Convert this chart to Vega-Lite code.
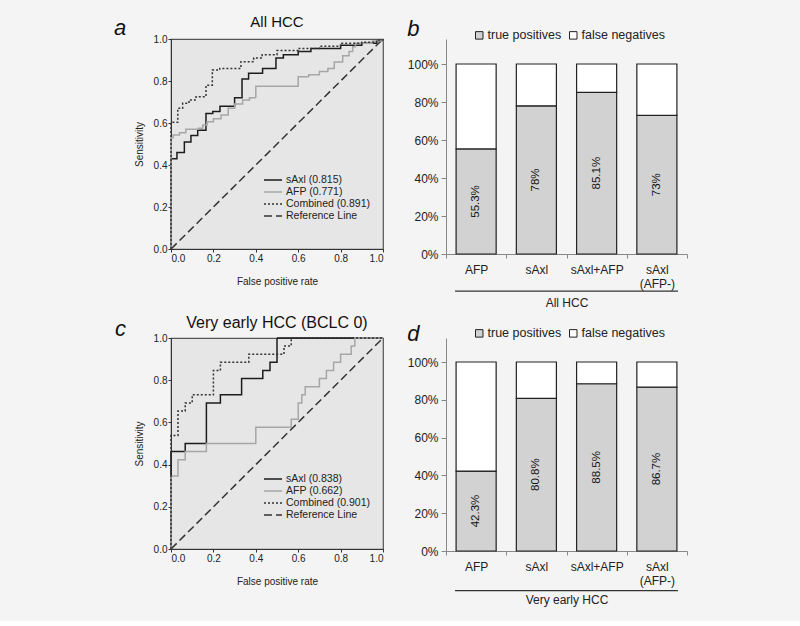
{
  "$schema": "https://vega.github.io/schema/vega-lite/v6.json",
  "background": "#f4f4f4",
  "padding": {"left": 113, "top": 14, "right": 112, "bottom": 16},
  "config": {
    "font": "Liberation Sans",
    "view": {"stroke": null},
    "axis": {"grid": false, "titleFontWeight": "normal", "labelColor": "#222", "titleColor": "#222"},
    "title": {"fontWeight": "normal", "color": "#111", "font": "Liberation Sans"}
  },
  "datasets": {
    "rocA": [
      {"series": "sAxl (0.815)", "i": 0, "fpr": 0, "sens": 0},
      {"series": "sAxl (0.815)", "i": 1, "fpr": 0, "sens": 0.43},
      {"series": "sAxl (0.815)", "i": 2, "fpr": 0.028, "sens": 0.46},
      {"series": "sAxl (0.815)", "i": 3, "fpr": 0.063, "sens": 0.51},
      {"series": "sAxl (0.815)", "i": 4, "fpr": 0.094, "sens": 0.54},
      {"series": "sAxl (0.815)", "i": 5, "fpr": 0.126, "sens": 0.565},
      {"series": "sAxl (0.815)", "i": 6, "fpr": 0.165, "sens": 0.645},
      {"series": "sAxl (0.815)", "i": 7, "fpr": 0.197, "sens": 0.655},
      {"series": "sAxl (0.815)", "i": 8, "fpr": 0.231, "sens": 0.68},
      {"series": "sAxl (0.815)", "i": 9, "fpr": 0.3, "sens": 0.72},
      {"series": "sAxl (0.815)", "i": 10, "fpr": 0.335, "sens": 0.81},
      {"series": "sAxl (0.815)", "i": 11, "fpr": 0.366, "sens": 0.837},
      {"series": "sAxl (0.815)", "i": 12, "fpr": 0.432, "sens": 0.86},
      {"series": "sAxl (0.815)", "i": 13, "fpr": 0.495, "sens": 0.91},
      {"series": "sAxl (0.815)", "i": 14, "fpr": 0.53, "sens": 0.925},
      {"series": "sAxl (0.815)", "i": 15, "fpr": 0.6, "sens": 0.94},
      {"series": "sAxl (0.815)", "i": 16, "fpr": 0.66, "sens": 0.955},
      {"series": "sAxl (0.815)", "i": 17, "fpr": 0.8, "sens": 0.97},
      {"series": "sAxl (0.815)", "i": 18, "fpr": 0.9, "sens": 0.98},
      {"series": "sAxl (0.815)", "i": 19, "fpr": 0.97, "sens": 0.99},
      {"series": "sAxl (0.815)", "i": 20, "fpr": 1, "sens": 1},
      {"series": "AFP (0.771)", "i": 0, "fpr": 0, "sens": 0},
      {"series": "AFP (0.771)", "i": 1, "fpr": 0, "sens": 0.53},
      {"series": "AFP (0.771)", "i": 2, "fpr": 0.01, "sens": 0.543},
      {"series": "AFP (0.771)", "i": 3, "fpr": 0.04, "sens": 0.553},
      {"series": "AFP (0.771)", "i": 4, "fpr": 0.07, "sens": 0.57},
      {"series": "AFP (0.771)", "i": 5, "fpr": 0.13, "sens": 0.575},
      {"series": "AFP (0.771)", "i": 6, "fpr": 0.15, "sens": 0.59},
      {"series": "AFP (0.771)", "i": 7, "fpr": 0.17, "sens": 0.606},
      {"series": "AFP (0.771)", "i": 8, "fpr": 0.2, "sens": 0.62},
      {"series": "AFP (0.771)", "i": 9, "fpr": 0.236, "sens": 0.638},
      {"series": "AFP (0.771)", "i": 10, "fpr": 0.27, "sens": 0.67},
      {"series": "AFP (0.771)", "i": 11, "fpr": 0.3, "sens": 0.69},
      {"series": "AFP (0.771)", "i": 12, "fpr": 0.338, "sens": 0.71},
      {"series": "AFP (0.771)", "i": 13, "fpr": 0.37, "sens": 0.72},
      {"series": "AFP (0.771)", "i": 14, "fpr": 0.4, "sens": 0.775},
      {"series": "AFP (0.771)", "i": 15, "fpr": 0.6, "sens": 0.82},
      {"series": "AFP (0.771)", "i": 16, "fpr": 0.65, "sens": 0.83},
      {"series": "AFP (0.771)", "i": 17, "fpr": 0.7, "sens": 0.845},
      {"series": "AFP (0.771)", "i": 18, "fpr": 0.74, "sens": 0.86},
      {"series": "AFP (0.771)", "i": 19, "fpr": 0.77, "sens": 0.89},
      {"series": "AFP (0.771)", "i": 20, "fpr": 0.81, "sens": 0.92},
      {"series": "AFP (0.771)", "i": 21, "fpr": 0.84, "sens": 0.94},
      {"series": "AFP (0.771)", "i": 22, "fpr": 0.857, "sens": 0.963},
      {"series": "AFP (0.771)", "i": 23, "fpr": 0.87, "sens": 0.98},
      {"series": "AFP (0.771)", "i": 24, "fpr": 0.95, "sens": 0.99},
      {"series": "AFP (0.771)", "i": 25, "fpr": 1, "sens": 1},
      {"series": "Combined (0.891)", "i": 0, "fpr": 0, "sens": 0},
      {"series": "Combined (0.891)", "i": 1, "fpr": 0, "sens": 0.603},
      {"series": "Combined (0.891)", "i": 2, "fpr": 0.032, "sens": 0.67},
      {"series": "Combined (0.891)", "i": 3, "fpr": 0.055, "sens": 0.694},
      {"series": "Combined (0.891)", "i": 4, "fpr": 0.085, "sens": 0.71},
      {"series": "Combined (0.891)", "i": 5, "fpr": 0.118, "sens": 0.725},
      {"series": "Combined (0.891)", "i": 6, "fpr": 0.165, "sens": 0.78},
      {"series": "Combined (0.891)", "i": 7, "fpr": 0.195, "sens": 0.852},
      {"series": "Combined (0.891)", "i": 8, "fpr": 0.23, "sens": 0.86},
      {"series": "Combined (0.891)", "i": 9, "fpr": 0.33, "sens": 0.892},
      {"series": "Combined (0.891)", "i": 10, "fpr": 0.39, "sens": 0.91},
      {"series": "Combined (0.891)", "i": 11, "fpr": 0.43, "sens": 0.925},
      {"series": "Combined (0.891)", "i": 12, "fpr": 0.5, "sens": 0.945},
      {"series": "Combined (0.891)", "i": 13, "fpr": 0.6, "sens": 0.955},
      {"series": "Combined (0.891)", "i": 14, "fpr": 0.7, "sens": 0.965},
      {"series": "Combined (0.891)", "i": 15, "fpr": 0.8, "sens": 0.98},
      {"series": "Combined (0.891)", "i": 16, "fpr": 0.9, "sens": 0.985},
      {"series": "Combined (0.891)", "i": 17, "fpr": 0.97, "sens": 0.995},
      {"series": "Combined (0.891)", "i": 18, "fpr": 1, "sens": 1}
    ],
    "rocC": [
      {"series": "sAxl (0.838)", "i": 0, "fpr": 0, "sens": 0},
      {"series": "sAxl (0.838)", "i": 1, "fpr": 0, "sens": 0.462},
      {"series": "sAxl (0.838)", "i": 2, "fpr": 0.067, "sens": 0.5},
      {"series": "sAxl (0.838)", "i": 3, "fpr": 0.167, "sens": 0.692},
      {"series": "sAxl (0.838)", "i": 4, "fpr": 0.233, "sens": 0.731},
      {"series": "sAxl (0.838)", "i": 5, "fpr": 0.333, "sens": 0.808},
      {"series": "sAxl (0.838)", "i": 6, "fpr": 0.433, "sens": 0.846},
      {"series": "sAxl (0.838)", "i": 7, "fpr": 0.467, "sens": 0.885},
      {"series": "sAxl (0.838)", "i": 8, "fpr": 0.5, "sens": 1},
      {"series": "sAxl (0.838)", "i": 9, "fpr": 1, "sens": 1},
      {"series": "AFP (0.662)", "i": 0, "fpr": 0, "sens": 0},
      {"series": "AFP (0.662)", "i": 1, "fpr": 0, "sens": 0.346},
      {"series": "AFP (0.662)", "i": 2, "fpr": 0.033, "sens": 0.423},
      {"series": "AFP (0.662)", "i": 3, "fpr": 0.067, "sens": 0.462},
      {"series": "AFP (0.662)", "i": 4, "fpr": 0.167, "sens": 0.5},
      {"series": "AFP (0.662)", "i": 5, "fpr": 0.4, "sens": 0.577},
      {"series": "AFP (0.662)", "i": 6, "fpr": 0.567, "sens": 0.615},
      {"series": "AFP (0.662)", "i": 7, "fpr": 0.6, "sens": 0.692},
      {"series": "AFP (0.662)", "i": 8, "fpr": 0.617, "sens": 0.731},
      {"series": "AFP (0.662)", "i": 9, "fpr": 0.633, "sens": 0.769},
      {"series": "AFP (0.662)", "i": 10, "fpr": 0.7, "sens": 0.808},
      {"series": "AFP (0.662)", "i": 11, "fpr": 0.733, "sens": 0.846},
      {"series": "AFP (0.662)", "i": 12, "fpr": 0.767, "sens": 0.885},
      {"series": "AFP (0.662)", "i": 13, "fpr": 0.8, "sens": 0.923},
      {"series": "AFP (0.662)", "i": 14, "fpr": 0.85, "sens": 0.962},
      {"series": "AFP (0.662)", "i": 15, "fpr": 0.867, "sens": 1},
      {"series": "AFP (0.662)", "i": 16, "fpr": 1, "sens": 1},
      {"series": "Combined (0.901)", "i": 0, "fpr": 0, "sens": 0},
      {"series": "Combined (0.901)", "i": 1, "fpr": 0, "sens": 0.538},
      {"series": "Combined (0.901)", "i": 2, "fpr": 0.033, "sens": 0.654},
      {"series": "Combined (0.901)", "i": 3, "fpr": 0.067, "sens": 0.692},
      {"series": "Combined (0.901)", "i": 4, "fpr": 0.1, "sens": 0.731},
      {"series": "Combined (0.901)", "i": 5, "fpr": 0.2, "sens": 0.846},
      {"series": "Combined (0.901)", "i": 6, "fpr": 0.233, "sens": 0.885},
      {"series": "Combined (0.901)", "i": 7, "fpr": 0.367, "sens": 0.923},
      {"series": "Combined (0.901)", "i": 8, "fpr": 0.533, "sens": 0.962},
      {"series": "Combined (0.901)", "i": 9, "fpr": 0.567, "sens": 1},
      {"series": "Combined (0.901)", "i": 10, "fpr": 1, "sens": 1}
    ],
    "refA": [
      {"series": "Reference Line", "fpr": 0, "sens": 0},
      {"series": "Reference Line", "fpr": 1, "sens": 1}
    ],
    "barB": [
      {"cat": "AFP", "type": "true positives", "value": 0.553, "label": "55.3%"},
      {"cat": "AFP", "type": "false negatives", "value": 0.447, "label": ""},
      {"cat": "sAxl", "type": "true positives", "value": 0.78, "label": "78%"},
      {"cat": "sAxl", "type": "false negatives", "value": 0.22, "label": ""},
      {"cat": "sAxl+AFP", "type": "true positives", "value": 0.851, "label": "85.1%"},
      {"cat": "sAxl+AFP", "type": "false negatives", "value": 0.149, "label": ""},
      {"cat": "sAxl (AFP-)", "type": "true positives", "value": 0.73, "label": "73%"},
      {"cat": "sAxl (AFP-)", "type": "false negatives", "value": 0.27, "label": ""}
    ],
    "barD": [
      {"cat": "AFP", "type": "true positives", "value": 0.423, "label": "42.3%"},
      {"cat": "AFP", "type": "false negatives", "value": 0.577, "label": ""},
      {"cat": "sAxl", "type": "true positives", "value": 0.808, "label": "80.8%"},
      {"cat": "sAxl", "type": "false negatives", "value": 0.192, "label": ""},
      {"cat": "sAxl+AFP", "type": "true positives", "value": 0.885, "label": "88.5%"},
      {"cat": "sAxl+AFP", "type": "false negatives", "value": 0.115, "label": ""},
      {"cat": "sAxl (AFP-)", "type": "true positives", "value": 0.867, "label": "86.7%"},
      {"cat": "sAxl (AFP-)", "type": "false negatives", "value": 0.133, "label": ""}
    ],
    "span": [{"from": "AFP", "to": "sAxl (AFP-)"}],
    "letterA": [{"letter": "a"}],
    "letterC": [{"letter": "c"}]
  },
  "spacing": 6,
  "resolve": {
    "scale": {"color": "independent", "strokeDash": "independent", "fill": "independent"},
    "legend": {"color": "independent", "strokeDash": "independent", "fill": "independent"}
  },
  "vconcat": [
    {
      "spacing": 20,
      "resolve": {
        "scale": {"color": "independent", "strokeDash": "independent", "fill": "independent"},
        "legend": {"color": "independent", "strokeDash": "independent", "fill": "independent"}
      },
      "hconcat": [
        {
          "width": 212, "height": 210,
          "view": {"fill": "#e6e6e6", "stroke": "#555", "strokeWidth": 1.2},
          "title": {"text": "All HCC", "fontSize": 15, "offset": -13},
          "layer": [
            {
              "data": {"name": "refA"},
              "mark": {"type": "line", "strokeWidth": 1.5},
              "encoding": {
                "x": {"field": "fpr", "type": "quantitative", "scale": {"domain": [0, 1], "nice": false}, "title": "False positive rate",
                  "axis": {"values": [0, 0.2, 0.4, 0.6, 0.8, 1], "format": ".1f", "labelFontSize": 10, "titleFontSize": 10, "tickSize": 3, "labelPadding": 1, "domainColor": "#333", "tickColor": "#333", "titlePadding": 13}},
                "y": {"field": "sens", "type": "quantitative", "scale": {"domain": [0, 1], "nice": false}, "title": "Sensitivity",
                  "axis": {"values": [0, 0.2, 0.4, 0.6, 0.8, 1], "format": ".1f", "labelFontSize": 10, "titleFontSize": 10, "tickSize": 3, "labelPadding": 1, "domainColor": "#333", "tickColor": "#333", "titlePadding": 9}},
                "color": {"field": "series", "type": "nominal",
                  "scale": {"domain": ["sAxl (0.815)", "AFP (0.771)", "Combined (0.891)", "Reference Line"], "range": ["#1c1c1c", "#a6a6a6", "#333333", "#333333"]},
                  "legend": {"title": null, "orient": "none", "legendX": 96, "legendY": 135, "symbolType": "M-1.8,0H1.8", "symbolSize": 100, "symbolStrokeWidth": 1.5, "rowPadding": 0, "labelFontSize": 10.5, "labelOffset": 7, "labelColor": "#222"}},
                "strokeDash": {"field": "series", "type": "nominal",
                  "scale": {"domain": ["sAxl (0.815)", "AFP (0.771)", "Combined (0.891)", "Reference Line"], "range": [[1, 0], [1, 0], [2, 2], [8, 4]]},
                  "legend": {"title": null, "orient": "none", "legendX": 96, "legendY": 135, "symbolType": "M-1.8,0H1.8", "symbolSize": 100, "symbolStrokeWidth": 1.5, "rowPadding": 0, "labelFontSize": 10.5, "labelOffset": 7, "labelColor": "#222"}}
              }
            },
            {
              "data": {"name": "rocA"},
              "mark": {"type": "line", "interpolate": "step-after", "strokeWidth": 1.5},
              "encoding": {
                "x": {"field": "fpr", "type": "quantitative"},
                "y": {"field": "sens", "type": "quantitative"},
                "order": {"field": "i", "type": "quantitative"},
                "color": {"field": "series", "type": "nominal"},
                "strokeDash": {"field": "series", "type": "nominal"}
              }
            },
            {
              "data": {"name": "letterA"},
              "mark": {"type": "text", "fontSize": 22, "fontStyle": "italic", "align": "left", "baseline": "alphabetic", "color": "#111"},
              "encoding": {
                "x": {"datum": -0.269, "type": "quantitative"},
                "y": {"datum": 1.019, "type": "quantitative"},
                "text": {"field": "letter"}
              }
            }
          ]
        },
        {
          "width": 241, "height": 215,
          "title": {"text": "b", "anchor": "start", "frame": "bounds", "fontSize": 22, "fontStyle": "italic", "offset": -12},
          "layer": [
            {
              "data": {"name": "barB"},
              "mark": {"type": "bar", "stroke": "#222", "strokeWidth": 1.2, "width": {"band": 0.665}},
              "encoding": {
                "x": {"field": "cat", "type": "nominal", "title": "All HCC",
                  "scale": {"domain": ["AFP", "sAxl", "sAxl+AFP", "sAxl (AFP-)"], "paddingInner": 0, "paddingOuter": 0},
                  "axis": {"labelAngle": 0, "labelFontSize": 12, "labelExpr": "indexof(['AFP', 'sAxl', 'sAxl+AFP', 'sAxl (AFP-)'], datum.value) < 0 ? '' : split(datum.value, ' ')", "labelLineHeight": 14, "labelPadding": 6, "tickBand": "extent", "tickSize": 4, "domainColor": "#888", "tickColor": "#888", "titleFontSize": 12, "titlePadding": 8}},
                "y": {"field": "value", "type": "quantitative", "stack": "zero", "title": null,
                  "scale": {"domain": [0, 1.1316], "nice": false},
                  "axis": {"values": [0, 0.2, 0.4, 0.6, 0.8, 1], "format": ".0%", "labelFontSize": 12, "tickSize": 5, "domainColor": "#888", "tickColor": "#888", "labelPadding": 3}},
                "fill": {"field": "type", "type": "nominal",
                  "scale": {"domain": ["true positives", "false negatives"], "range": ["#d2d2d2", "#ffffff"]},
                  "legend": {"title": null, "orient": "none", "legendX": 27, "legendY": -10, "direction": "horizontal", "symbolType": "square", "symbolSize": 56, "symbolStrokeColor": "#222", "symbolStrokeWidth": 1, "labelFontSize": 12.5, "labelOffset": 2, "columnPadding": 5, "labelColor": "#222"}},
                "order": {"field": "type", "sort": "descending"}
              }
            },
            {
              "data": {"name": "barB"},
              "transform": [{"filter": "datum.type == 'true positives'"}, {"calculate": "datum.value / 2", "as": "mid"}],
              "mark": {"type": "text", "angle": 270, "fontSize": 11.5, "color": "#111"},
              "encoding": {
                "x": {"field": "cat", "type": "nominal", "scale": {"domain": ["AFP", "sAxl", "sAxl+AFP", "sAxl (AFP-)"]}},
                "y": {"field": "mid", "type": "quantitative"},
                "text": {"field": "label"}
              }
            },
            {
              "data": {"name": "span"},
              "mark": {"type": "rule", "stroke": "#333", "strokeWidth": 1.2},
              "encoding": {
                "x": {"datum": "AFP", "type": "nominal", "bandPosition": 0.15, "scale": {"domain": ["AFP", "sAxl", "sAxl+AFP", "sAxl (AFP-)"]}},
                "x2": {"datum": "sAxl (AFP-)", "bandPosition": 0.85},
                "y": {"datum": -0.195, "type": "quantitative"}
              }
            }
          ]
        }
      ]
    },
    {
      "spacing": 20,
      "resolve": {
        "scale": {"color": "independent", "strokeDash": "independent", "fill": "independent"},
        "legend": {"color": "independent", "strokeDash": "independent", "fill": "independent"}
      },
      "hconcat": [
        {
          "width": 212, "height": 211,
          "view": {"fill": "#e6e6e6", "stroke": "#555", "strokeWidth": 1.2},
          "title": {"text": "Very early HCC (BCLC 0)", "fontSize": 16, "offset": -13},
          "layer": [
            {
              "data": {"name": "refA"},
              "mark": {"type": "line", "strokeWidth": 1.5},
              "encoding": {
                "x": {"field": "fpr", "type": "quantitative", "scale": {"domain": [0, 1], "nice": false}, "title": "False positive rate",
                  "axis": {"values": [0, 0.2, 0.4, 0.6, 0.8, 1], "format": ".1f", "labelFontSize": 10, "titleFontSize": 10, "tickSize": 3, "labelPadding": 1, "domainColor": "#333", "tickColor": "#333", "titlePadding": 13}},
                "y": {"field": "sens", "type": "quantitative", "scale": {"domain": [0, 1], "nice": false}, "title": "Sensitivity",
                  "axis": {"values": [0, 0.2, 0.4, 0.6, 0.8, 1], "format": ".1f", "labelFontSize": 10, "titleFontSize": 10, "tickSize": 3, "labelPadding": 1, "domainColor": "#333", "tickColor": "#333", "titlePadding": 9}},
                "color": {"field": "series", "type": "nominal",
                  "scale": {"domain": ["sAxl (0.838)", "AFP (0.662)", "Combined (0.901)", "Reference Line"], "range": ["#1c1c1c", "#a6a6a6", "#333333", "#333333"]},
                  "legend": {"title": null, "orient": "none", "legendX": 96, "legendY": 135, "symbolType": "M-1.8,0H1.8", "symbolSize": 100, "symbolStrokeWidth": 1.5, "rowPadding": 0, "labelFontSize": 10.5, "labelOffset": 7, "labelColor": "#222"}},
                "strokeDash": {"field": "series", "type": "nominal",
                  "scale": {"domain": ["sAxl (0.838)", "AFP (0.662)", "Combined (0.901)", "Reference Line"], "range": [[1, 0], [1, 0], [2, 2], [8, 4]]},
                  "legend": {"title": null, "orient": "none", "legendX": 96, "legendY": 135, "symbolType": "M-1.8,0H1.8", "symbolSize": 100, "symbolStrokeWidth": 1.5, "rowPadding": 0, "labelFontSize": 10.5, "labelOffset": 7, "labelColor": "#222"}}
              }
            },
            {
              "data": {"name": "rocC"},
              "mark": {"type": "line", "interpolate": "step-after", "strokeWidth": 1.5},
              "encoding": {
                "x": {"field": "fpr", "type": "quantitative"},
                "y": {"field": "sens", "type": "quantitative"},
                "order": {"field": "i", "type": "quantitative"},
                "color": {"field": "series", "type": "nominal"},
                "strokeDash": {"field": "series", "type": "nominal"}
              }
            },
            {
              "data": {"name": "letterC"},
              "mark": {"type": "text", "fontSize": 22, "fontStyle": "italic", "align": "left", "baseline": "alphabetic", "color": "#111"},
              "encoding": {
                "x": {"datum": -0.264, "type": "quantitative"},
                "y": {"datum": 1.011, "type": "quantitative"},
                "text": {"field": "letter"}
              }
            }
          ]
        },
        {
          "width": 241, "height": 213,
          "title": {"text": "d", "anchor": "start", "frame": "bounds", "fontSize": 22, "fontStyle": "italic", "offset": -19},
          "layer": [
            {
              "data": {"name": "barD"},
              "mark": {"type": "bar", "stroke": "#222", "strokeWidth": 1.2, "width": {"band": 0.665}},
              "encoding": {
                "x": {"field": "cat", "type": "nominal", "title": "Very early HCC",
                  "scale": {"domain": ["AFP", "sAxl", "sAxl+AFP", "sAxl (AFP-)"], "paddingInner": 0, "paddingOuter": 0},
                  "axis": {"labelAngle": 0, "labelFontSize": 12, "labelExpr": "indexof(['AFP', 'sAxl', 'sAxl+AFP', 'sAxl (AFP-)'], datum.value) < 0 ? '' : split(datum.value, ' ')", "labelLineHeight": 14, "labelPadding": 6, "tickBand": "extent", "tickSize": 4, "domainColor": "#888", "tickColor": "#888", "titleFontSize": 12, "titlePadding": 8}},
                "y": {"field": "value", "type": "quantitative", "stack": "zero", "title": null,
                  "scale": {"domain": [0, 1.127], "nice": false},
                  "axis": {"values": [0, 0.2, 0.4, 0.6, 0.8, 1], "format": ".0%", "labelFontSize": 12, "tickSize": 5, "domainColor": "#888", "tickColor": "#888", "labelPadding": 3}},
                "fill": {"field": "type", "type": "nominal",
                  "scale": {"domain": ["true positives", "false negatives"], "range": ["#d2d2d2", "#ffffff"]},
                  "legend": {"title": null, "orient": "none", "legendX": 27, "legendY": -11, "direction": "horizontal", "symbolType": "square", "symbolSize": 56, "symbolStrokeColor": "#222", "symbolStrokeWidth": 1, "labelFontSize": 12.5, "labelOffset": 2, "columnPadding": 5, "labelColor": "#222"}},
                "order": {"field": "type", "sort": "descending"}
              }
            },
            {
              "data": {"name": "barD"},
              "transform": [{"filter": "datum.type == 'true positives'"}, {"calculate": "datum.value / 2", "as": "mid"}],
              "mark": {"type": "text", "angle": 270, "fontSize": 11.5, "color": "#111"},
              "encoding": {
                "x": {"field": "cat", "type": "nominal", "scale": {"domain": ["AFP", "sAxl", "sAxl+AFP", "sAxl (AFP-)"]}},
                "y": {"field": "mid", "type": "quantitative"},
                "text": {"field": "label"}
              }
            },
            {
              "data": {"name": "span"},
              "mark": {"type": "rule", "stroke": "#333", "strokeWidth": 1.2},
              "encoding": {
                "x": {"datum": "AFP", "type": "nominal", "bandPosition": 0.15, "scale": {"domain": ["AFP", "sAxl", "sAxl+AFP", "sAxl (AFP-)"]}},
                "x2": {"datum": "sAxl (AFP-)", "bandPosition": 0.85},
                "y": {"datum": -0.21, "type": "quantitative"}
              }
            }
          ]
        }
      ]
    }
  ]
}
